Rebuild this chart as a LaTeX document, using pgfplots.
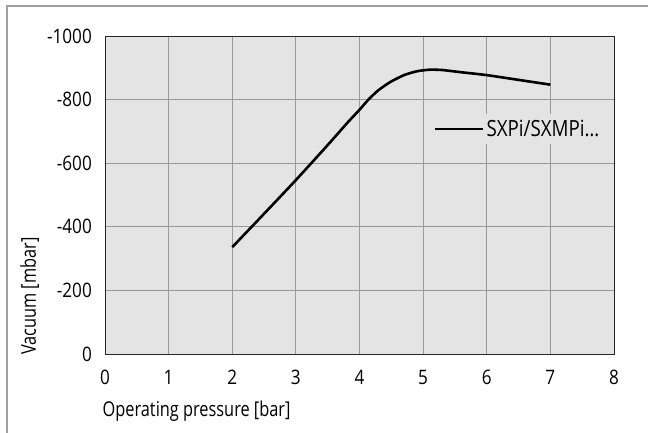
\documentclass[border=0pt]{standalone}
\usepackage{pgfplots}
\pgfplotsset{compat=1.18}
\usepackage{fontspec}
\setmainfont{Open Sans}[FakeStretch=0.80]
\newfontfamily\tickfont{Open Sans}[FakeStretch=0.86]
\newfontfamily\legfont{Open Sans}[FakeStretch=0.84]
\definecolor{plotbg}{HTML}{E4E4E4}
\definecolor{gridc}{HTML}{9A9A9A}
\definecolor{framec}{HTML}{A0A0A0}
\begin{document}
\begin{tikzpicture}
\useasboundingbox (-105bp,-79bp) rectangle (543bp,354bp);
\draw[framec, line width=1.3bp] (-98bp,-80bp) -- (-98bp,348bp) -- (544bp,348bp);
\begin{axis}[
  at={(0,0)}, anchor=south west,
  scale only axis,
  width=509bp, height=318bp,
  xmin=0, xmax=8, ymin=-1000, ymax=0,
  y dir=reverse,
  xtick={0,1,...,8},
  ytick={-1000,-800,-600,-400,-200,0},
  major tick length=0pt,
  grid=major,
  major grid style={gridc, line width=0.9bp},
  axis line style={black!85, line width=0.9bp},
  axis background/.style={fill=plotbg},
  /pgf/number format/assume math mode=true,
  /pgf/number format/set thousands separator={},
  ticklabel style={font=\tickfont\fontsize{20}{22}\selectfont, inner sep=0pt},
  yticklabel style={anchor=east, xshift=-13bp},
  xticklabel style={anchor=north, yshift=-16bp},
  xlabel={Operating pressure [bar]},
  ylabel={Vacuum [mbar]},
  label style={font=\fontsize{20.5}{22}\selectfont, inner sep=0pt},
  xlabel style={at={(axis description cs:-0.005,-0.195)}, anchor=base west},
  ylabel style={at={(axis description cs:-0.1356,-0.003)}, anchor=base west},
  legend style={at={(axis description cs:0.646,0.7075)}, anchor=west,
    draw=none, fill=plotbg, inner xsep=0pt, inner ysep=4bp,
    font=\legfont\fontsize{22.4}{24}\selectfont},
  legend cell align=left,
  legend image code/.code={\draw[#1] (0bp,0bp) -- (48bp,0bp);},
  every axis plot/.append style={line width=2.6bp},
]
\addplot[black, smooth, tension=0.4, line join=round] coordinates {
 (2,-336) (2.5,-441) (3,-547) (3.5,-657) (3.8,-725) (4.0,-768)
 (4.14,-800) (4.3,-830) (4.49,-856) (4.7,-877) (4.9,-889) (5.1,-894)
 (5.3,-893) (5.6,-886) (6,-877) (6.5,-862) (7,-847)
};
\addlegendentry{SXPi/SXMPi…}
\end{axis}
\end{tikzpicture}
\end{document}
